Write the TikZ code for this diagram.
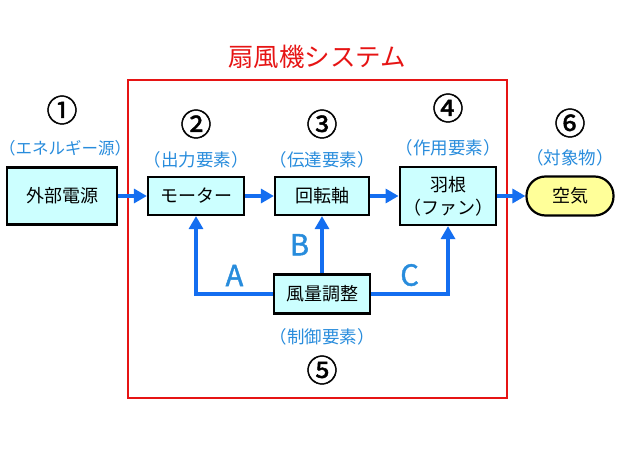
\documentclass[tikz,border=0pt]{standalone}
\usepackage{fontspec}
\setmainfont{Noto Sans CJK JP}
\newfontfamily\heavyfont[FakeBold=1.5]{Noto Sans CJK JP}
\usetikzlibrary{positioning, arrows.meta}
\definecolor{mycyan}{RGB}{204,255,255}
\definecolor{myyellow}{RGB}{255,255,153}
\definecolor{myblue}{RGB}{20,110,240}
\definecolor{mylabel}{RGB}{40,140,220}
\definecolor{myred}{RGB}{230,20,20}

\begin{document}
\begin{tikzpicture}[x=1pt, y=-1pt,
	elem/.style={rectangle, draw, line width=2.2pt, fill=mycyan, minimum width=96pt, minimum height=38pt, align=center, font=\fontsize{18}{23}\selectfont},
	flow/.style={draw=myblue, line width=3.2pt, -{Triangle[length=13pt, width=14pt]}},
	role/.style={text=mylabel, inner sep=0pt, font=\fontsize{17.5}{20}\selectfont},
	num/.style={font=\heavyfont\fontsize{31}{33}\selectfont},
	letter/.style={text=mylabel, font=\heavyfont\fontsize{29}{31}\selectfont}]

\useasboundingbox (0,0) rectangle (620,465);

%----------SYSTEM FRAME-------------%
\draw[myred, line width=2pt] (128,80) rectangle (507,398);
\node[text=myred, font=\fontsize{25.5}{28}\selectfont] (title) at (317,57) {扇風機システム};

%----------ELEMENTS-------------%
\node[elem, minimum width=110pt, minimum height=57pt] (source) at (62,196) {外部電源};
\node[elem] (motor) at (196,196) {モーター};
\node[elem, minimum width=94pt] (shaft) at (322,196) {回転軸};
\node[elem, minimum width=94pt, minimum height=58pt] (fan) at (448,196) {羽根\\（ファン）};
\node[elem, fill=myyellow, rounded corners=19pt, minimum width=87pt, minimum height=39pt] (air) at (570,196) {空気};
\node[elem, minimum height=39pt] (control) at (322,294) {風量調整};

%----------ROLES-------------%
\node[num] (n1) at (62,110) {①};
\node[role, font=\fontsize{16.5}{20}\selectfont] (r1) at (65,148) {（エネルギー源）};
\node[num] (n2) at (196,124) {②};
\node[role] (r2) at (196,160) {（出力要素）};
\node[num] (n3) at (322,124) {③};
\node[role] (r3) at (322,160) {（伝達要素）};
\node[num] (n4) at (448,108) {④};
\node[role] (r4) at (448,148) {（作用要素）};
\node[num] (n6) at (570,123) {⑥};
\node[role] (r6) at (570,158) {（対象物）};
\node[role] (r5) at (322,337) {（制御要素）};
\node[num] (n5) at (322,370) {⑤};

%----------FLOW LINKS-------------%
\draw[flow] (source) -- (motor);
\draw[flow] (motor) -- (shaft);
\draw[flow] (shaft) -- (fan);
\draw[flow] (fan) -- (air);

%----------CONTROL LINKS-------------%
\draw[flow] (control.west) -| node[letter, pos=0.25, above=3pt] {A} (motor.south);
\draw[flow] (control) -- node[letter, left=8pt] {B} (shaft);
\draw[flow] (control.east) -| node[letter, pos=0.25, above=3pt] {C} (fan.south);

\end{tikzpicture}
\end{document}
